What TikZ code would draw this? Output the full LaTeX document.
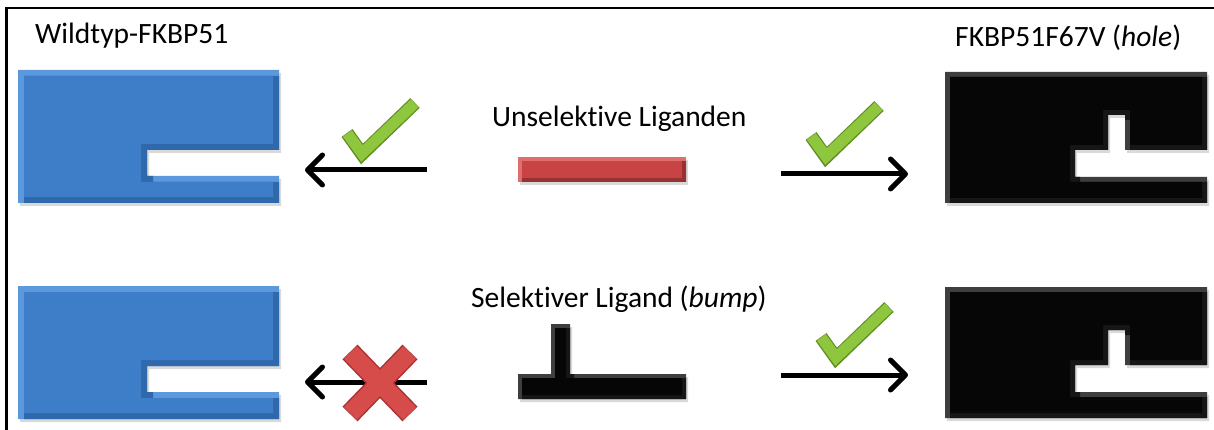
\documentclass[tikz,border=0pt]{standalone}
\usepackage{fontspec}
\setmainfont[Ligatures=NoCommon]{Carlito}
\usetikzlibrary{arrows.meta}
\definecolor{bluemain}{RGB}{62,126,201}
\definecolor{bluelight}{RGB}{92,152,220}
\definecolor{bluedark}{RGB}{48,104,172}
\definecolor{blkmain}{RGB}{6,6,6}
\definecolor{blklight}{RGB}{62,62,62}
\definecolor{blkdark}{RGB}{22,22,22}
\definecolor{redmain}{RGB}{200,68,68}
\definecolor{redlight}{RGB}{225,110,110}
\definecolor{reddark}{RGB}{150,50,50}
\definecolor{chkgreen}{RGB}{142,198,62}
\definecolor{chkdark}{RGB}{96,142,36}
\definecolor{xred}{RGB}{214,76,74}
\definecolor{xdark}{RGB}{170,50,50}
\newcommand{\bevelshape}[6]{%
  \fill[black, opacity=0.15, shift={(2,3)}] #1;
  \fill[#3] #1;
  \begin{scope}\clip #1; \fill[#4, shift={(#6,#6)}] #1;\end{scope}
  \fill[#5] #2;
}
\tikzset{
  lbl/.style={anchor=base west, inner sep=0pt, font=\fontsize{29.5}{34}\selectfont},
  bigarrow/.style={line width=5pt, -{Straight Barb[length=15pt,width=30pt,line width=5pt,round]}},
  pics/checkmark/.style={code={
    \draw[chkdark, line width=13.5pt, line join=miter] (0,0) -- (15,21) -- (68,-30);
    \draw[chkgreen, line width=11pt, line join=miter] (0.3,0.5) -- (15,20.5) -- (67.6,-29.6);
  }},
}
\begin{document}
\begin{tikzpicture}[x=1pt, y=-1pt]
\useasboundingbox (0,0) rectangle (1214,430);
\fill[white] (0,0) rectangle (1214,430);
% frame
\draw[line width=2.5pt] (6.5,431) -- (6.5,8) -- (1215,8);

% labels
\node[lbl] (wt) at (35,44) {Wildtyp-FKBP51};
\node[lbl] (mut) at (955,47) {FKBP51F67V (\textit{hole})};
\node[lbl] (unsel) at (492,127) {Unselektive Liganden};
\node[lbl] (sel) at (471,307) {Selektiver Ligand (\textit{bump})};

% blue wild-type shapes
\foreach \yy/\nm in {70/bt, 286/bb}{
\begin{scope}[shift={(18,\yy)}]
  \bevelshape{(0,0) -- (261,0) -- (261,80) -- (129,80) -- (129,106) -- (261,106) -- (261,133) -- (0,133) -- cycle}
             {(6,6) -- (255,6) -- (255,74) -- (123,74) -- (123,112) -- (255,112) -- (255,127) -- (6,127) -- cycle}
             {bluelight}{bluedark}{bluemain}{6}
  \coordinate (\nm) at (261,93);
\end{scope}
}

% black mutant shapes
\foreach \yy/\nm in {72/mt, 287/mb}{
\begin{scope}[shift={(945,\yy)}]
  \bevelshape{(0,0) -- (262,0) -- (262,78) -- (180,78) -- (180,43) -- (163,43) -- (163,78) -- (130,78) -- (130,105) -- (262,105) -- (262,131) -- (0,131) -- cycle}
             {(5,5) -- (257,5) -- (257,73) -- (185,73) -- (185,38) -- (158,38) -- (158,73) -- (125,73) -- (125,110) -- (257,110) -- (257,126) -- (5,126) -- cycle}
             {blklight}{blkdark}{blkmain}{5}
  \coordinate (\nm) at (0,92);
\end{scope}
}

% red unselective ligand
\begin{scope}[shift={(518,157)}]
  \bevelshape{(0,0) rectangle (168,25)}{(4,4) rectangle (164,21)}{redlight}{reddark}{redmain}{4}
  \coordinate (lig1) at (84,12);
\end{scope}

% black T-shaped selective ligand
\begin{scope}[shift={(518,324)}]
  \bevelshape{(0,50) -- (33,50) -- (33,0) -- (52,0) -- (52,50) -- (168,50) -- (168,75) -- (0,75) -- cycle}
             {(4,54) -- (37,54) -- (37,4) -- (48,4) -- (48,54) -- (164,54) -- (164,71) -- (4,71) -- cycle}
             {blklight}{blkdark}{blkmain}{4}
  \coordinate (lig2) at (84,62);
\end{scope}

% arrows
\coordinate (a1s) at (427,170); \coordinate (a1e) at (305,170);
\coordinate (a2s) at (781,174); \coordinate (a2e) at (908,174);
\coordinate (a3s) at (427,382); \coordinate (a3e) at (305,382);
\coordinate (a4s) at (781,375); \coordinate (a4e) at (908,375);
\draw[bigarrow] (a1s) -- (a1e);
\draw[bigarrow] (a2s) -- (a2e);
\draw[bigarrow] (a3s) -- (a3e);
\draw[bigarrow] (a4s) -- (a4e);

% check marks
\pic at (347,133) {checkmark};
\pic at (811,136) {checkmark};
\pic at (821,337) {checkmark};

% red cross
\coordinate (xc) at (380,383);
\draw[xdark, line width=21pt] ([shift={(-30,-31)}]xc) -- ([shift={(30,31)}]xc);
\draw[xdark, line width=21pt] ([shift={(30,-31)}]xc) -- ([shift={(-30,31)}]xc);
\draw[xred, line width=18pt] ([shift={(-29.5,-30.5)}]xc) -- ([shift={(29.5,30.5)}]xc);
\draw[xred, line width=18pt] ([shift={(29.5,-30.5)}]xc) -- ([shift={(-29.5,30.5)}]xc);
\end{tikzpicture}
\end{document}
